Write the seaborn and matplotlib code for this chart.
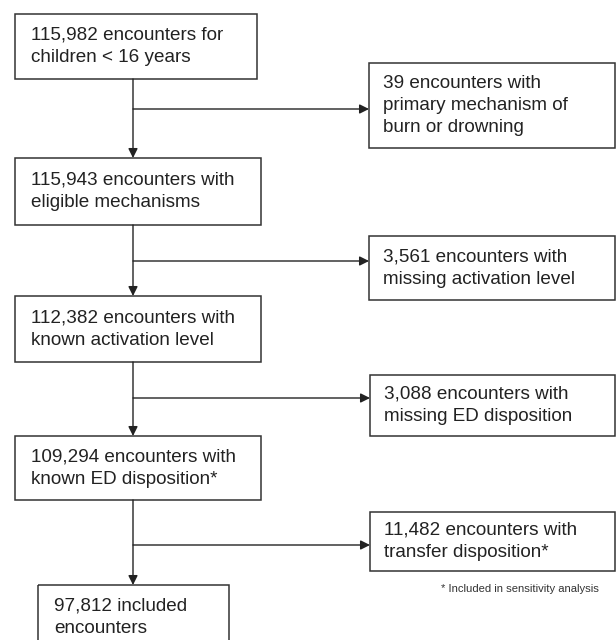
import matplotlib
matplotlib.use("Agg")
import matplotlib.pyplot as plt
from matplotlib.patches import Rectangle
import seaborn as sns

# ---- data (flowchart contents) ----
main_counts = ["115,982", "115,943", "112,382", "109,294", "97,812"]
main_labels = [
    "115,982 encounters for\nchildren < 16 years",
    "115,943 encounters with\neligible mechanisms",
    "112,382 encounters with\nknown activation level",
    "109,294 encounters with\nknown ED disposition*",
    "97,812 included\nencounters",
]
excl_counts = ["39", "3,561", "3,088", "11,482"]
excl_labels = [
    "39 encounters with\nprimary mechanism of\nburn or drowning",
    "3,561 encounters with\nmissing activation level",
    "3,088 encounters with\nmissing ED disposition",
    "11,482 encounters with\ntransfer disposition*",
]
footnote = "* Included in sensitivity analysis"

# ---- layout (pixel coordinates, y downward) ----
main_boxes = [(15, 14, 257, 79), (15, 158, 261, 225), (15, 296, 261, 362),
              (15, 436, 261, 500), (38, 585, 229, 700)]
excl_boxes = [(369, 63, 615, 148), (369, 236, 615, 300),
              (370, 375, 615, 436), (370, 512, 615, 571)]
branch_y = [109, 261, 398, 545]
spine_x = 133

sns.set_theme(style="white")
plt.rcParams['font.family'] = ['Liberation Sans', 'DejaVu Sans']

fig = plt.figure(figsize=(6.16, 6.4), dpi=100)
ax = fig.add_axes([0, 0, 1, 1])
ax.set_xlim(0, 616)
ax.set_ylim(640, 0)
ax.axis("off")

edge = "#333333"
fs = 13.6

def draw_box(b, text, pad):
    x0, y0, x1, y1 = b
    ax.add_patch(Rectangle((x0, y0), x1 - x0, y1 - y0, fill=False,
                           edgecolor=edge, linewidth=1.1))
    yc = (y0 + y1) / 2 if y1 <= 640 else y0 + 32
    ax.text(x0 + pad, yc, text, ha="left", va="center", fontsize=fs,
            color="#222222", linespacing=1.4)

for b, t in zip(main_boxes, main_labels):
    draw_box(b, t, 16)
for b, t in zip(excl_boxes, excl_labels):
    draw_box(b, t, 14)

# vertical arrows
for i in range(len(main_boxes) - 1):
    y_start = main_boxes[i][3]
    y_end = main_boxes[i + 1][1]
    ax.annotate("", xy=(spine_x, y_end), xytext=(spine_x, y_start),
                arrowprops=dict(arrowstyle="-|>", color="#222222", lw=1.0,
                                mutation_scale=14, shrinkA=0, shrinkB=0))
# horizontal arrows
for yb, b in zip(branch_y, excl_boxes):
    ax.annotate("", xy=(b[0], yb), xytext=(spine_x, yb),
                arrowprops=dict(arrowstyle="-|>", color="#222222", lw=1.0,
                                mutation_scale=14, shrinkA=0, shrinkB=0))

ax.text(520, 589, footnote, ha="center", va="center", fontsize=8.1,
        color="#333333")

fig.savefig("out.png", dpi=100)
